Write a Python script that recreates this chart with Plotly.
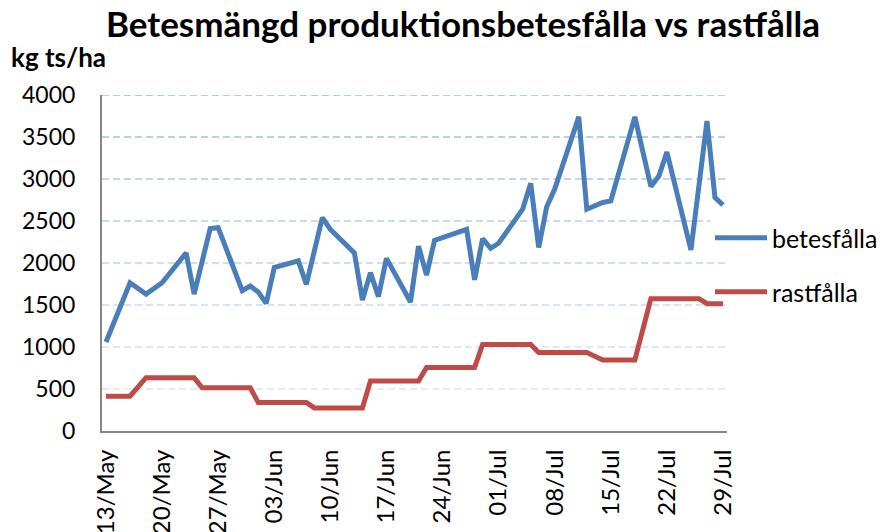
import plotly.graph_objects as go

# ---- data ----
bete_dates = ["2013-05-13","2013-05-16","2013-05-18","2013-05-20","2013-05-23","2013-05-24","2013-05-26","2013-05-27",
              "2013-05-30","2013-05-31","2013-06-01","2013-06-02","2013-06-03","2013-06-06","2013-06-07","2013-06-09",
              "2013-06-10","2013-06-13","2013-06-14","2013-06-15","2013-06-16","2013-06-17","2013-06-20","2013-06-21",
              "2013-06-22","2013-06-23","2013-06-27","2013-06-28","2013-06-29","2013-06-30","2013-07-01","2013-07-04",
              "2013-07-05","2013-07-06","2013-07-07","2013-07-08","2013-07-11","2013-07-12","2013-07-14","2013-07-15",
              "2013-07-18","2013-07-20","2013-07-21","2013-07-22","2013-07-25","2013-07-27","2013-07-28","2013-07-29"]
bete_values = [1060,1765,1630,1765,2120,1630,2410,2420,
               1670,1725,1655,1520,1945,2025,1745,2540,
               2400,2120,1560,1885,1600,2055,1535,2200,
               1855,2270,2400,1800,2290,2175,2235,2640,
               2950,2185,2670,2880,3740,2640,2720,2740,
               3740,2910,3035,3320,2155,3690,2780,2690]

rast_dates = ["2013-05-13","2013-05-16","2013-05-18","2013-05-24","2013-05-25","2013-05-31","2013-06-01","2013-06-07",
              "2013-06-08","2013-06-14","2013-06-15","2013-06-21","2013-06-22","2013-06-28","2013-06-29","2013-07-05",
              "2013-07-06","2013-07-12","2013-07-14","2013-07-18","2013-07-20","2013-07-26","2013-07-27","2013-07-29"]
rast_values = [415,415,635,635,515,515,340,340,
               275,275,595,595,755,755,1030,1030,
               935,935,845,845,1575,1575,1515,1515]

y_ticks = [0,500,1000,1500,2000,2500,3000,3500,4000]
x_start = "2013-05-13"

title_text = "Betesmängd produktionsbetesfålla vs rastfålla"
y_title = "kg ts/ha"
names = ["betesfålla", "rastfålla"]

FONT = "Lato"
# page body has an 8px default margin: figure is placed at (8,8)
OFF = 8
W, H = 890 - OFF, 532 - OFF
PL, PR, PT, PB = 102, 727, 95, 431   # plot area in window pixels

fig = go.Figure()
fig.add_trace(go.Scatter(x=bete_dates, y=bete_values, mode="lines", name=names[0], showlegend=True,
                         line=dict(color="#4a7ebb", width=5), legend="legend"))
fig.add_trace(go.Scatter(x=rast_dates, y=rast_values, mode="lines", name=names[1], showlegend=True,
                         line=dict(color="#be4b48", width=5), legend="legend2"))

# dashed gridlines fading toward the bottom
shapes = []
for v in y_ticks[1:]:
    t = (v - 500) / 3500
    c0 = (224, 230, 240)
    c1 = (158, 186, 230)
    col = "rgb(%d,%d,%d)" % tuple(round(a + (b - a) * t) for a, b in zip(c0, c1))
    shapes.append(dict(type="line", xref="paper", x0=0, x1=1, yref="y", y0=v, y1=v,
                       line=dict(color=col, width=1.5, dash="7px,4px"), layer="below"))

pw, ph = PR - PL, PB - PT
fig.update_layout(
    width=W, height=H, showlegend=True,
    margin=dict(l=PL - OFF, r=W - (PR - OFF), t=PT - OFF, b=H - (PB - OFF), autoexpand=False),
    paper_bgcolor="white", plot_bgcolor="white",
    font=dict(family=FONT, size=22, color="black"),
    title=dict(text="<b>" + title_text + "</b>", x=(463 - OFF) / W, xanchor="center",
               y=1 - (25 - OFF) / H, yanchor="middle", font=dict(family=FONT, size=35, color="black")),
    shapes=shapes,
    annotations=[dict(text="<b>" + y_title + "</b>", xref="paper", yref="paper",
                      x=(9 - PL) / pw, xanchor="left", y=(PB - 57) / ph, yanchor="middle",
                      showarrow=False, font=dict(family=FONT, size=26, color="black"))],
    xaxis=dict(type="date", range=["2013-05-12 12:00", "2013-07-29 12:00"],
               tick0=x_start, dtick=7*24*3600*1000, tickformat="%d/%b", tickangle=-90,
               showgrid=False, zeroline=False, showline=True, linecolor="#868686", linewidth=2,
               ticks="", ticklabelstandoff=7, automargin=False,
               tickfont=dict(family=FONT, size=24, color="black")),
    yaxis=dict(range=[0, 4000], tickvals=y_ticks, showgrid=False, zeroline=False,
               showline=True, linecolor="#868686", linewidth=2, ticks="",
               ticklabelstandoff=20, automargin=False,
               tickfont=dict(family=FONT, size=23, color="black")),
    legend=dict(x=(710 - PL) / pw, xanchor="left", y=(PB - 238) / ph, yanchor="middle",
                bgcolor="white", borderwidth=0, itemwidth=52,
                font=dict(family=FONT, size=25, color="black")),
    legend2=dict(x=(710 - PL) / pw, xanchor="left", y=(PB - 292) / ph, yanchor="middle",
                 bgcolor="rgba(0,0,0,0)", borderwidth=0, itemwidth=52,
                 font=dict(family=FONT, size=25, color="black")),
)

fig.write_html("out.html")
